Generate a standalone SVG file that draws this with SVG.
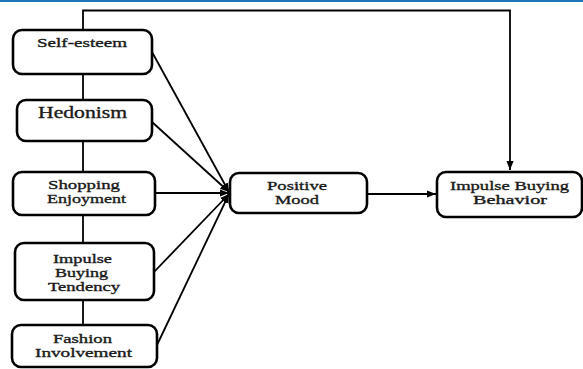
<svg xmlns="http://www.w3.org/2000/svg" width="583" height="369" viewBox="0 0 583 369">
<style>
.box{fill:#fff;stroke:#000;stroke-width:2.6}
.t{font-family:"Liberation Serif","Times New Roman",serif;font-size:13.5px;fill:#1a1a1a;text-anchor:middle;font-weight:normal;stroke:#1a1a1a;stroke-width:0.35}
.s{font-size:12.5px}
.c{fill:none;stroke:#000;stroke-width:1.8}
</style>
<defs>
<marker id="ah" viewBox="0 0 10 10" refX="10" refY="5" markerWidth="5" markerHeight="5" orient="auto" markerUnits="strokeWidth">
<path d="M0,1 L10,5 L0,9 Z" fill="#000"/>
</marker>
</defs>
<rect x="0" y="0" width="583" height="369" fill="#fff"/>
<rect x="0" y="0" width="583" height="2" fill="#1f74b8"/>
<g id="connectors">
<path class="c" d="M83,30 V10.5 H510 V170" marker-end="url(#ah)"/>
<path class="c" d="M83,74 V100"/>
<path class="c" d="M83,141 V172"/>
<path class="c" d="M83,215 V243"/>
<path class="c" d="M83,300 V325"/>
<path class="c" d="M152,52 L229,192" marker-end="url(#ah)"/>
<path class="c" d="M152,122 L229,192" marker-end="url(#ah)"/>
<path class="c" d="M155,193 L229,193" marker-end="url(#ah)"/>
<path class="c" d="M154,272 L229,194" marker-end="url(#ah)"/>
<path class="c" d="M157,345 L229,194" marker-end="url(#ah)"/>
<path class="c" d="M367,194 L436,194" marker-end="url(#ah)"/>
</g>
<g id="self-esteem">
<rect class="box" x="13" y="30" width="139" height="44" rx="9"/>
<text class="t" x="82" y="47" textLength="90" lengthAdjust="spacingAndGlyphs">Self-esteem</text>
</g>
<g id="hedonism">
<rect class="box" x="17" y="100" width="135" height="41" rx="9"/>
<text class="t" x="82.5" y="118" style="font-size:16px" textLength="89" lengthAdjust="spacingAndGlyphs">Hedonism</text>
</g>
<g id="shopping-enjoyment">
<rect class="box" x="13" y="172" width="142" height="43" rx="9"/>
<text class="t" x="84" y="189" textLength="72" lengthAdjust="spacingAndGlyphs">Shopping</text>
<text class="t" x="86.5" y="203" textLength="79" lengthAdjust="spacingAndGlyphs">Enjoyment</text>
</g>
<g id="impulse-buying-tendency">
<rect class="box" x="15" y="243" width="139" height="57" rx="9"/>
<text class="t s" x="82.5" y="263" textLength="59" lengthAdjust="spacingAndGlyphs">Impulse</text>
<text class="t s" x="81.5" y="277" textLength="53" lengthAdjust="spacingAndGlyphs">Buying</text>
<text class="t s" x="84" y="291" textLength="72" lengthAdjust="spacingAndGlyphs">Tendency</text>
</g>
<g id="fashion-involvement">
<rect class="box" x="12" y="325" width="145" height="42" rx="9"/>
<text class="t" x="82.5" y="343" textLength="59" lengthAdjust="spacingAndGlyphs">Fashion</text>
<text class="t" x="83.5" y="357" textLength="97" lengthAdjust="spacingAndGlyphs">Involvement</text>
</g>
<g id="positive-mood">
<rect class="box" x="230" y="173" width="137" height="40" rx="9"/>
<text class="t" x="297" y="190" textLength="60" lengthAdjust="spacingAndGlyphs">Positive</text>
<text class="t" x="297" y="204" textLength="44" lengthAdjust="spacingAndGlyphs">Mood</text>
</g>
<g id="impulse-buying-behavior">
<rect class="box" x="437" y="172" width="145" height="45" rx="9"/>
<text class="t" x="509.5" y="190" textLength="119" lengthAdjust="spacingAndGlyphs">Impulse Buying</text>
<text class="t" x="510" y="204" textLength="74" lengthAdjust="spacingAndGlyphs">Behavior</text>
</g>
</svg>
